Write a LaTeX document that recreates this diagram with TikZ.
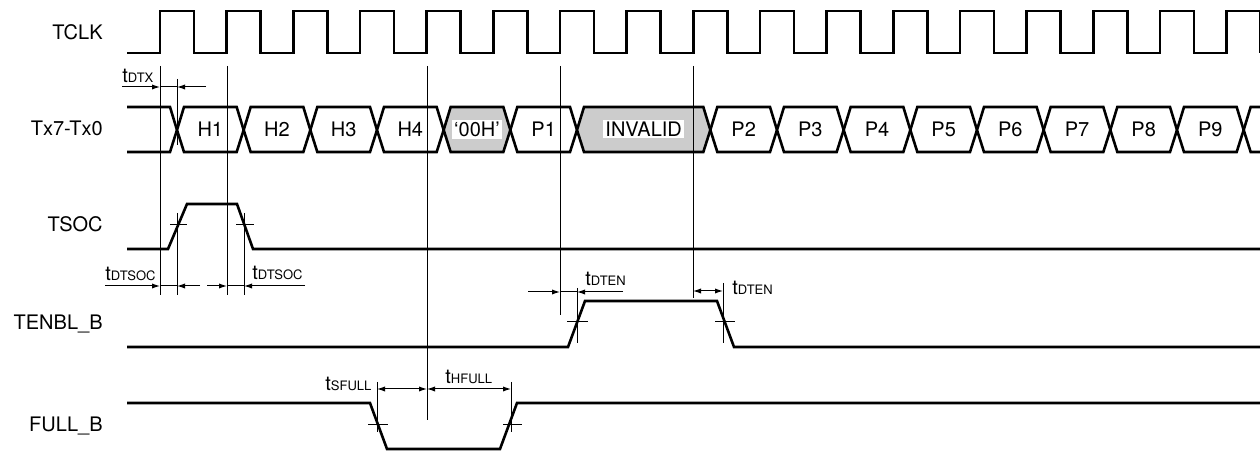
\documentclass[tikz,border=0pt]{standalone}
\usepackage{fontspec}
\setmainfont{TeX Gyre Heros}
\usetikzlibrary{arrows.meta}
\tikzset{sig/.style = {line width = 1.3pt, line join = miter},
  guide/.style = {line width = 0.5pt},
  dimarr/.style = {line width = 0.5pt, -{Latex[length = 4pt, width = 2.6pt]}},
  dimboth/.style = {line width = 0.5pt, {Latex[length = 4pt, width = 2.6pt]}-{Latex[length = 4pt, width = 2.6pt]}},
  signame/.style = {anchor = base east, inner sep = 0},
  tlabel/.style = {anchor = base west, inner sep = 0},
  buslabel/.style = {anchor = base, fill = white, inner sep = 1pt}}
\definecolor{mgrey}{rgb}{0.8, 0.8, 0.8}
\newcommand{\tsub}[1]{t{\fontsize{6.5}{7}\selectfont #1}}

\begin{document}
\begin{tikzpicture}[x = 0.5pt, y = -0.5pt, font = \fontsize{10}{12}\selectfont]
  \useasboundingbox (0, 0) rectangle (1260, 453);

  \node [signame] (tclk) at (103, 40) {TCLK};
  \node [signame] (txd) at (103, 136) {Tx7-Tx0};
  \node [signame] (tsoc) at (103, 232) {TSOC};
  \node [signame] (tenbl) at (103, 330) {TENBL\_B};
  \node [signame] (full) at (103, 432) {FULL\_B};

  \draw [sig] (127, 53) \foreach \k in {0, ..., 16} {
    -- ({160 + \k*200/3}, 53) -- ++(0, -42) -- ++(34, 0) -- ++(0, 42)};

  \draw [sig] (127, 107) -- (170, 107) -- (177, 130) -- (170, 152) -- (127, 152);
  \foreach \a/\b/\lbl/\fc in {0/1/H1/white, 1/2/H2/white, 2/3/H3/white, 3/4/H4/white,
      4/5/`00H'/mgrey, 5/6/P1/white, 6/8/INVALID/mgrey, 8/9/P2/white, 9/10/P3/white,
      10/11/P4/white, 11/12/P5/white, 12/13/P6/white, 13/14/P7/white, 14/15/P8/white,
      15/16/P9/white} {
    \draw [sig, fill = \fc] ({177 + \a*200/3}, 130) -- ++(7, -23) -- ({177 + \b*200/3 - 7}, 107)
      -- ({177 + \b*200/3}, 130) -- ({177 + \b*200/3 - 7}, 152) -- ({177 + \a*200/3 + 7}, 152) -- cycle;
    \node [buslabel] (d\a) at ({177 + (\a + \b)*100/3}, 136.5) {\lbl};
  }
  \draw [sig] (1262, 107) -- ({177 + 16*200/3 + 7}, 107) -- ({177 + 16*200/3}, 130)
    -- ({177 + 16*200/3 + 7}, 152) -- (1262, 152);

  \draw [sig] (127, 249) -- (168, 249) -- (187, 204) -- (237, 204) -- (253, 249) -- (1262, 249);
  \draw [sig] (127, 347) -- (568, 347) -- (585, 301) -- (717, 301) -- (734, 347) -- (1262, 347);
  \draw [sig] (127, 403) -- (370, 403) -- (387, 449) -- (500, 449) -- (517, 403) -- (1262, 403);

  \foreach \x/\yb in {160/295, 227/295, 427/420, 560/315, 693/298}
    \draw [guide] (\x, 66) -- (\x, \yb);
  \draw [guide] (177, 79) -- (177, 145);
  \draw [guide] (177, 213) -- (177, 295);
  \draw [guide] (244, 213) -- (244, 295);
  \draw [guide] (577, 288) -- (577, 343);
  \draw [guide] (723, 283) -- (723, 343);
  \draw [guide] (377, 382) -- (377, 432);
  \draw [guide] (511, 382) -- (511, 432);

  \draw [guide] (170, 225) -- (187, 225);
  \draw [guide] (236, 225) -- (254, 225);
  \draw [guide] (567, 322) -- (588, 322);
  \draw [guide] (715, 322) -- (735, 322);
  \draw [guide] (368, 425) -- (388, 425);
  \draw [guide] (503, 425) -- (522, 425);

  \draw [dimarr] (122, 87) -- (160, 87);
  \draw [guide] (160, 87) -- (177, 87);
  \draw [dimarr] (206, 87) -- (177, 87);
  \node [tlabel] (tdtx) at (122, 83) {\tsub{DTX}};

  \draw [dimarr] (105, 286) -- (160, 286);
  \draw [guide] (160, 286) -- (177, 286);
  \draw [dimarr] (200, 286) -- (177, 286);
  \node [tlabel] (tdtsoca) at (105, 281) {\tsub{DTSOC}};
  \draw [dimarr] (207, 286) -- (227, 286);
  \draw [guide] (227, 286) -- (244, 286);
  \draw [dimarr] (305, 286) -- (244, 286);
  \node [tlabel] (tdtsocb) at (252, 280) {\tsub{DTSOC}};

  \draw [dimarr] (528, 292) -- (560, 292);
  \draw [guide] (560, 292) -- (577, 292);
  \draw [dimarr] (623, 292) -- (577, 292);
  \node [tlabel] (tdtena) at (585, 286) {\tsub{DTEN}};
  \draw [dimboth] (693, 291) -- (723, 291);
  \node [tlabel] (tdtenb) at (732, 295) {\tsub{DTEN}};

  \draw [dimboth] (377, 389) -- (427, 389);
  \draw [dimboth] (427, 389) -- (511, 389);
  \node [tlabel] (tsfull) at (325, 391) {\tsub{SFULL}};
  \node [tlabel] (thfull) at (445, 384) {\tsub{HFULL}};
\end{tikzpicture}
\end{document}
